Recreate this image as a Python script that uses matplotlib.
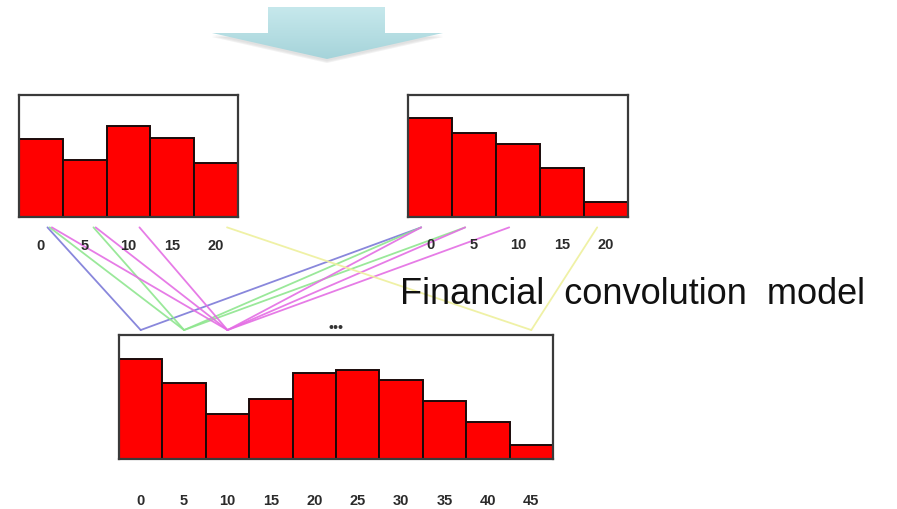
import numpy as np
import matplotlib
matplotlib.use("Agg")
from matplotlib import pyplot as plt
from matplotlib.patches import Polygon, ConnectionPatch
from matplotlib.transforms import blended_transform_factory

plt.rcParams['font.family'] = ['Liberation Sans', 'DejaVu Sans']

# bin heights (relative to the box height) of the two input distributions
left_bins = ["0", "5", "10", "15", "20"]
left_vals = [0.64, 0.47, 0.75, 0.65, 0.44]
right_bins = ["0", "5", "10", "15", "20"]
right_vals = [0.81, 0.69, 0.60, 0.40, 0.12]

# convolved distribution
conv_bins = ["0", "5", "10", "15", "20", "25", "30", "35", "40", "45"]
conv_vals = [0.81, 0.61, 0.36, 0.48, 0.69, 0.72, 0.64, 0.47, 0.30, 0.11]

# (left bin, right bin, result bin, colour) for the pairs that get linked
links = [
    (0, 0, 0, "#7c7ad8"),
    (0, 1, 1, "#8fe68f"),
    (1, 0, 1, "#8fe68f"),
    (0, 2, 2, "#e46ee4"),
    (1, 1, 2, "#e46ee4"),
    (2, 0, 2, "#e46ee4"),
    (4, 4, 9, "#eef09c"),
]

W, H = 897, 509
fig = plt.figure(figsize=(W / 100, H / 100), dpi=100)

def px_axes(x0, y0, x1, y1):
    return fig.add_axes([x0 / W, 1 - y1 / H, (x1 - x0) / W, (y1 - y0) / H])

# background layer in pixel units for the arrow
bg = fig.add_axes([0, 0, 1, 1], zorder=-5)
bg.set_xlim(0, W)
bg.set_ylim(H, 0)
bg.axis("off")

arrow = [(268, 7), (385, 7), (385, 33), (443, 33), (327, 59), (212, 33), (268, 33)]
for k, a in enumerate([0.05, 0.07, 0.09]):
    sh = Polygon([(x, y + 2 + k) for x, y in arrow], closed=True,
                 facecolor="#707070", edgecolor="none", alpha=a, zorder=1)
    bg.add_patch(sh)
poly = Polygon(arrow, closed=True, facecolor="none", edgecolor="none")
bg.add_patch(poly)
grad = np.linspace(0, 1, 100).reshape(-1, 1)
cmap = matplotlib.colors.LinearSegmentedColormap.from_list("arr", ["#c6e8ec", "#a6d4da"])
im = bg.imshow(grad, extent=[212, 443, 59, 7], cmap=cmap, aspect="auto", zorder=3)
im.set_clip_path(poly)


def hist_box(ax, vals, labels, pad):
    n = len(vals)
    ax.bar(np.arange(n), vals, width=1.0, color="#ff0000",
           edgecolor="#1a0a0a", linewidth=1.4)
    ax.set_xlim(-0.5, n - 0.5)
    ax.set_ylim(0, 1)
    ax.set_yticks([])
    ax.set_xticks(np.arange(n), labels)
    ax.tick_params(axis="x", length=0, pad=pad, labelsize=10.5,
                   labelcolor="#2b2b2b")
    for t in ax.get_xticklabels():
        t.set_fontweight("bold")
    for s in ax.spines.values():
        s.set_color("#3a3a3a")
        s.set_linewidth(1.6)


ax_l = px_axes(19, 95, 238, 217)
ax_r = px_axes(408, 95, 628, 217)
ax_c = px_axes(119, 335, 553, 459)
hist_box(ax_l, left_vals, left_bins, 16)
hist_box(ax_r, right_vals, right_bins, 15)
hist_box(ax_c, conv_vals, conv_bins, 25)

ax_c.text(0.5, 1.0, "•••", transform=ax_c.transAxes, ha="center",
          va="bottom", fontsize=10, fontweight="bold", color="#333333")

# lines from each input bin pair down to the result bin and back up
tl = blended_transform_factory(ax_l.transData, ax_l.transAxes)
tr = blended_transform_factory(ax_r.transData, ax_r.transAxes)
tc = blended_transform_factory(ax_c.transData, ax_c.transAxes)
for i, j, k, col in links:
    start = (i + 0.15 + 0.05 * min(k, 2), -0.085)
    vtx = (k, 1.04)
    end = (j - 0.2, -0.085)
    for a, ta, b, tb in [(start, tl, vtx, tc), (vtx, tc, end, tr)]:
        cp = ConnectionPatch(a, b, coordsA=ta, coordsB=tb, color=col,
                             linewidth=1.3, alpha=0.9, zorder=-1)
        fig.add_artist(cp)

fig.text(400 / W, 1 - 304 / H, "Financial  convolution  model",
         fontsize=26, va="baseline", ha="left", color="#111111")

fig.savefig("out.png", dpi=100)
